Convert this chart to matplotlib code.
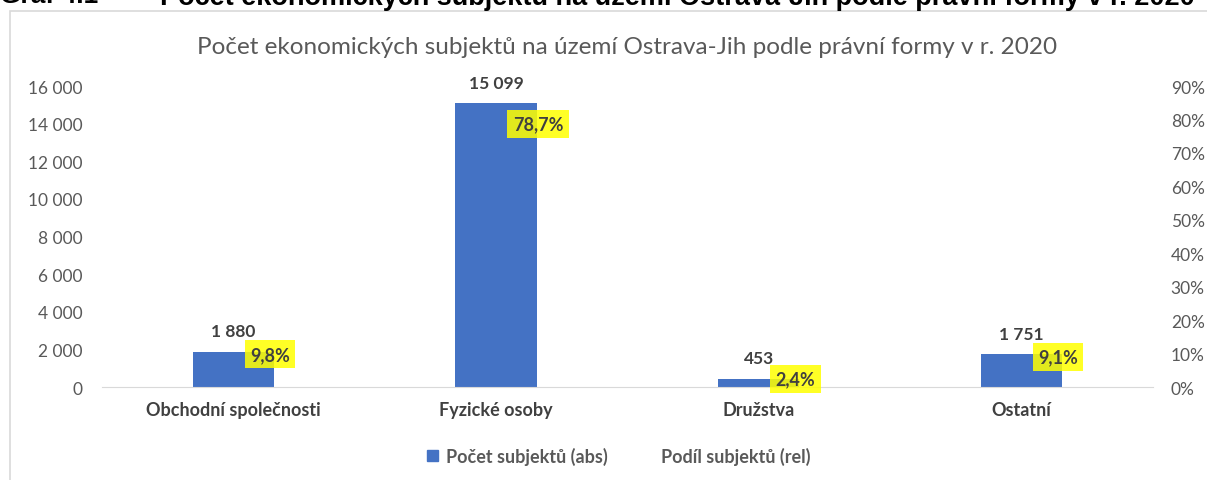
import matplotlib
matplotlib.use("Agg")
import matplotlib.pyplot as plt
from matplotlib.patches import Rectangle
from matplotlib.lines import Line2D
from matplotlib.ticker import FuncFormatter
import numpy as np

# data
categories = ["Obchodní společnosti", "Fyzické osoby", "Družstva", "Ostatní"]
abs_counts = [1880, 15099, 453, 1751]
rel_share = [9.8, 78.7, 2.4, 9.1]

left_ticks = [0, 2000, 4000, 6000, 8000, 10000, 12000, 14000, 16000]
right_ticks = [0, 10, 20, 30, 40, 50, 60, 70, 80, 90]

title = "Počet ekonomických subjektů na území Ostrava-Jih podle právní formy v r. 2020"
caption_no = "Graf 4.1"
caption = "Počet ekonomických subjektů na území Ostrava-Jih podle právní formy v r. 2020"

BLUE = "#4472C4"
GRAY = "#595959"
DARK = "#404040"

plt.rcParams["font.family"] = ["Lato", "DejaVu Sans"]

fig = plt.figure(figsize=(12.07, 4.81), dpi=100)
ax = fig.add_axes([0.0845, 0.1933, 0.8705, 0.6257])
ax2 = ax.twinx()

x = np.arange(len(categories))
ax.bar(x, abs_counts, width=0.31, color=BLUE, zorder=2)
ax.set_xlim(-0.5, len(categories) - 0.5)
ax.set_ylim(0, 16000)
ax.set_yticks(left_ticks)
ax.yaxis.set_major_formatter(FuncFormatter(lambda v, p: f"{int(v):,}".replace(",", " ")))
ax.set_xticks(x)
ax.set_xticklabels(categories, fontsize=13, color=DARK, fontweight="bold")
ax.tick_params(axis="x", length=0, pad=10)
ax.tick_params(axis="y", length=0, pad=14, labelsize=12.5, labelcolor=GRAY)

ax2.plot(x, rel_share, color="none")
ax2.set_ylim(0, 90)
ax2.set_yticks(right_ticks)
ax2.yaxis.set_major_formatter(FuncFormatter(lambda v, p: f"{int(v)}%"))
ax2.tick_params(axis="y", length=0, pad=13, labelsize=12.5, labelcolor=GRAY)

for a in (ax, ax2):
    for s in a.spines.values():
        s.set_visible(False)
ax.spines["bottom"].set_visible(True)
ax.spines["bottom"].set_color("#D9D9D9")

# value labels
for xi, v in zip(x, abs_counts):
    ax.annotate(f"{v:,}".replace(",", " "), (xi, v), xytext=(0, 9),
                textcoords="offset points", ha="center", va="bottom",
                fontsize=12.5, fontweight="bold", color=DARK)

for xi, v in zip(x, rel_share):
    ax2.annotate(f"{v:.1f}%".replace(".", ","), (xi, v), xytext=(12, 0),
                 textcoords="offset points", ha="left", va="center",
                 fontsize=13, fontweight="bold", color=DARK, zorder=5,
                 bbox=dict(boxstyle="square,pad=0.3", fc="#FFFF00", ec="none", alpha=0.85))

ax.set_title(title, fontsize=17.5, color=GRAY, pad=24)

handles = [Rectangle((0, 0), 1, 1, color=BLUE), Line2D([], [], color="none")]
fig.legend(handles, ["Počet subjektů (abs)", "Podíl subjektů (rel)"],
           loc="center", bbox_to_anchor=(0.513, 0.05), ncol=2, frameon=False,
           labelcolor=GRAY, handlelength=0.6, handleheight=0.6,
           columnspacing=2.0, handletextpad=0.4, prop={"weight": "bold", "size": 13})

# chart frame and the caption above it, cut off at the top as in the source
fig.patches.append(Rectangle((10 / 1207, -0.1), 1.2, 1 - 12 / 481 + 0.1,
                             transform=fig.transFigure, fill=False,
                             ec="#D9D9D9", lw=1.2))
fig.text(0.0, 1.008, caption_no, ha="left", va="center", fontsize=19,
         fontweight="bold", family="Liberation Sans", color="black")
fig.text(160 / 1207, 1.008, caption, ha="left", va="center", fontsize=19.5,
         fontweight="bold", family="Liberation Sans", color="black")

fig.savefig("out.png", dpi=100)
